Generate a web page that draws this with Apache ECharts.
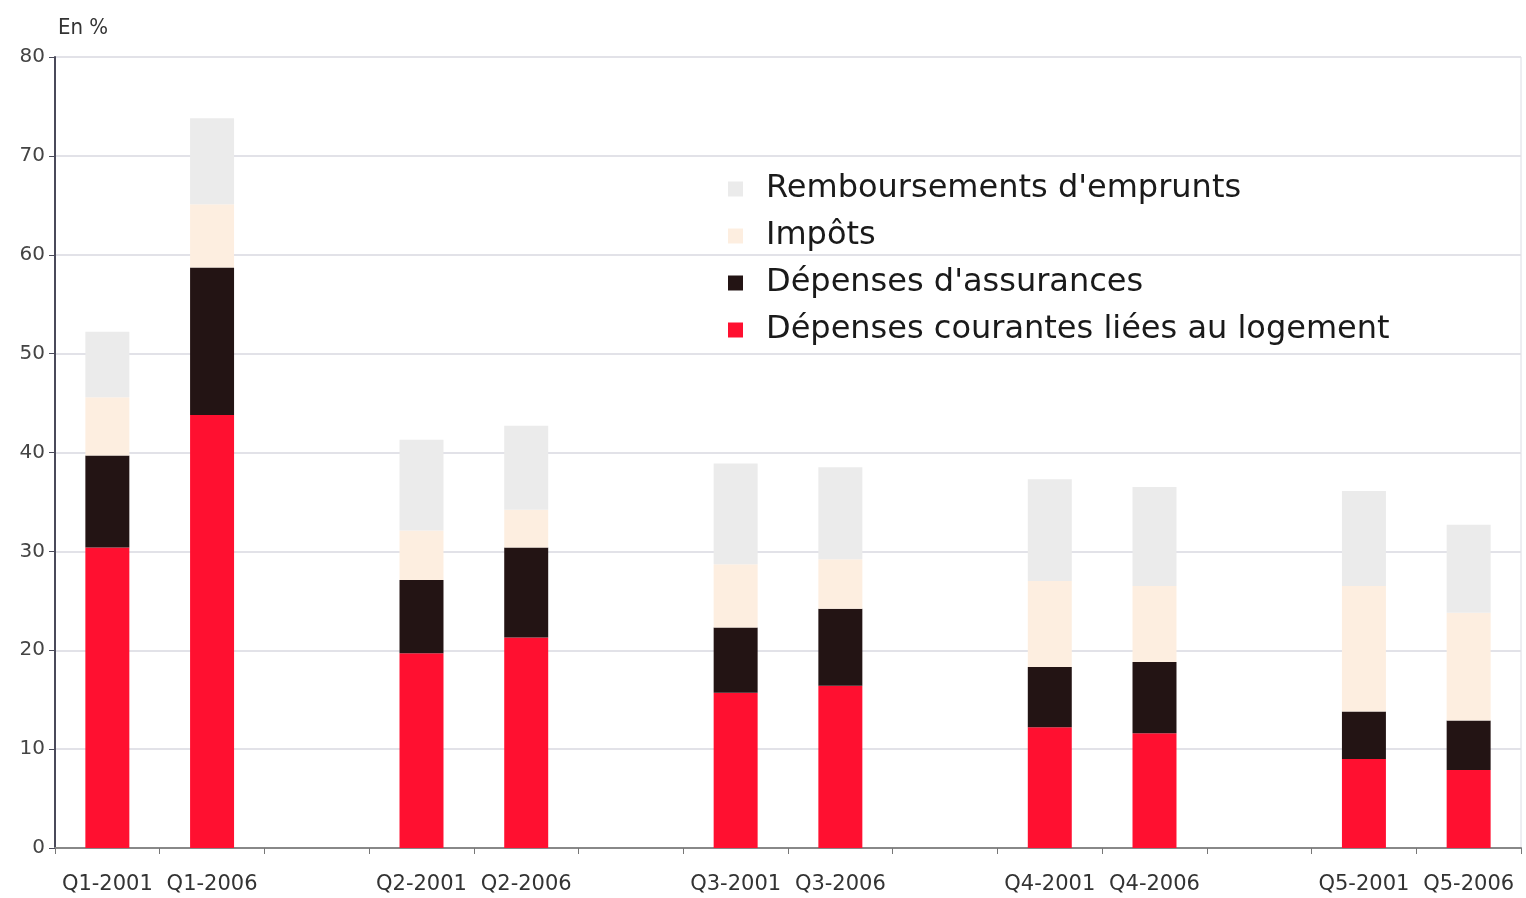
<!DOCTYPE html>
<html>
<head>
<meta charset="utf-8">
<script src="https://cdn.jsdelivr.net/npm/echarts@6/dist/echarts.min.js"></script>
<style>
  html, body { margin: 0; padding: 0; background: #fff; }
  #chart { width: 1526px; height: 898px; }
</style>
</head>
<body>
<div id="chart"></div>
<script>
// categories, blank slots separate the quintile groups
const categories = ["Q1-2001", "Q1-2006", "", "Q2-2001", "Q2-2006", "", "Q3-2001", "Q3-2006", "", "Q4-2001", "Q4-2006", "", "Q5-2001", "Q5-2006"];

const logement = [30.4, 43.8, "-", 19.7, 21.3, "-", 15.7, 16.4, "-", 12.2, 11.6, "-", 9.0, 7.9];
const assurances = [9.3, 14.9, "-", 7.4, 9.1, "-", 6.6, 7.8, "-", 6.1, 7.2, "-", 4.8, 5.0];
const impots = [5.9, 6.4, "-", 5.0, 3.8, "-", 6.4, 5.0, "-", 8.7, 7.7, "-", 12.7, 10.9];
const emprunts = [6.6, 8.7, "-", 9.2, 8.5, "-", 10.2, 9.3, "-", 10.3, 10.0, "-", 9.6, 8.9];

const yTicks = [0, 10, 20, 30, 40, 50, 60, 70, 80];

const chart = echarts.init(document.getElementById("chart"));

const font = "'DejaVu Sans', sans-serif";

function bar(name, data, color) {
  return {
    name: name,
    type: "bar",
    stack: "total",
    data: data,
    barWidth: "42%",
    itemStyle: { color: color },
  };
}

const options = {
  animation: false,
  grid: {
    left: 55,
    right: 5,
    top: 57,
    bottom: 50,
    show: true,
    borderColor: "#dcdce4",
    borderWidth: 1,
  },
  title: {
    text: "En %",
    left: 53,
    top: 12,
    textStyle: { fontFamily: "'Liberation Sans Narrow', 'DejaVu Sans Condensed', sans-serif", fontSize: 22, fontWeight: "normal", color: "#333" },
  },
  legend: {
    orient: "vertical",
    left: 723,
    top: 168,
    itemWidth: 15,
    itemHeight: 15,
    itemGap: 15,
    icon: "rect",
    data: ["Remboursements d'emprunts", "Impôts", "Dépenses d'assurances", "Dépenses courantes liées au logement"],
    textStyle: { fontFamily: font, fontSize: 32, color: "#1a1a1a", lineHeight: 32, padding: [0, 0, 0, 18] },
  },
  xAxis: {
    type: "category",
    data: categories,
    axisLine: { lineStyle: { color: "#888", width: 2 } },
    axisTick: { show: true, length: 6, lineStyle: { color: "#777" } },
    axisLabel: { fontFamily: font, fontSize: 21, color: "#333", margin: 26, interval: 0 },
  },
  yAxis: {
    type: "value",
    min: 0,
    max: yTicks[yTicks.length - 1],
    interval: yTicks[1] - yTicks[0],
    axisLine: { show: true, lineStyle: { color: "#4a4a5a", width: 2 } },
    axisTick: { show: true, length: 6, lineStyle: { color: "#4a4a5a" } },
    axisLabel: { fontFamily: font, fontSize: 20, color: "#444", margin: 10 },
    splitLine: { show: true, lineStyle: { color: "#e2e2e8", width: 2 } },
  },
  series: [
    bar("Dépenses courantes liées au logement", logement, "#ff1030"),
    bar("Dépenses d'assurances", assurances, "#231414"),
    bar("Impôts", impots, "#fdeee0"),
    bar("Remboursements d'emprunts", emprunts, "#ebebeb"),
  ],
};

chart.setOption(options);
</script>
</body>
</html>
